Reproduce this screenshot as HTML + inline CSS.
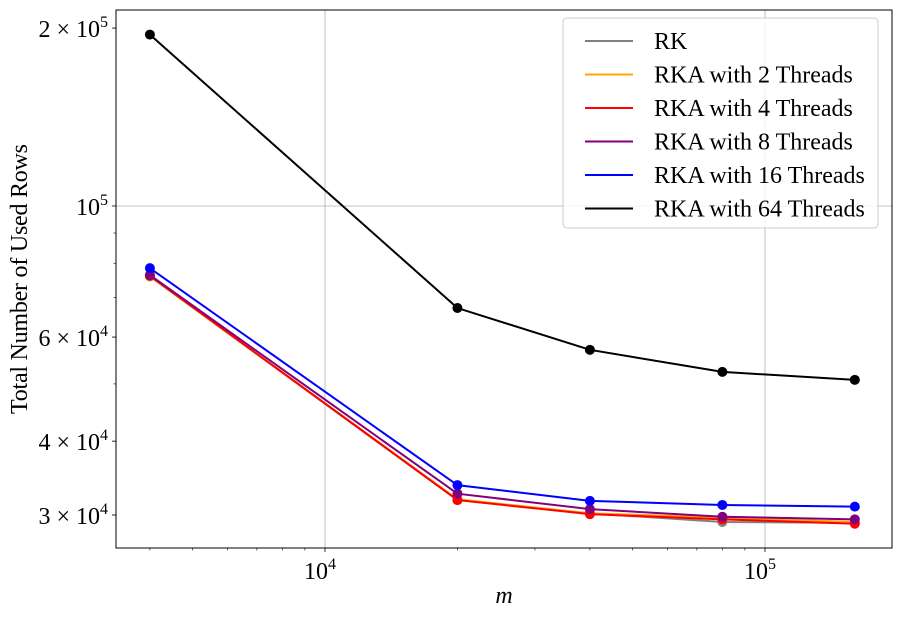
<!DOCTYPE html>
<html><head><meta charset="utf-8"><style>
body{margin:0;background:#fff}
svg{font-family:"Liberation Serif",serif}
</style></head><body>
<svg id="chart" width="899" height="616" xmlns="http://www.w3.org/2000/svg"></svg>
<script>
const xValues=[4000,20000,40000,80000,160000];
const seriesNames=["RK","RKA with 2 Threads","RKA with 4 Threads","RKA with 8 Threads","RKA with 16 Threads","RKA with 64 Threads"];
const seriesColors=["#808080","orange","red","purple","blue","black"];
const sRK=[76000,31800,30200,29200,29100];
const sRKA2=[76000,31900,30200,29700,29200];
const sRKA4=[76200,31800,30100,29500,29000];
const sRKA8=[76400,32600,30700,29800,29500];
const sRKA16=[78500,33700,31700,31200,31000];
const sRKA64=[195000,67200,57100,52400,50800];
const series=[sRK,sRKA2,sRKA4,sRKA8,sRKA16,sRKA64];
const yTicks=[30000,40000,60000,100000,200000];
const yTickLabels=[["3","4"],["4","4"],["6","4"],["","5"],["2","5"]];
const xTicks=[10000,100000];

const NS="http://www.w3.org/2000/svg";
const svg=document.getElementById('chart');
const L=116,R=892,T=10,B=548;
const X=v=>325+440*Math.log10(v/1e4);
const Y=v=>206-591*Math.log10(v/1e5);
function mk(t,a,p){const e=document.createElementNS(NS,t);for(const k in a)e.setAttribute(k,a[k]);(p||svg).appendChild(e);return e;}

xTicks.forEach(v=>{const g=mk('line',{x1:X(v),x2:X(v),y1:T,y2:B,stroke:'#b0b0b0','stroke-width':0.8});

});
[100000].forEach(v=>{const g=mk('line',{x1:L,x2:R,y1:Y(v),y2:Y(v),stroke:'#b0b0b0','stroke-width':0.8});

});

for(let d=1000;d<=100000;d*=10)for(let m=2;m<=9;m++){const v=d*m;const x=X(v);if(x<L||x>R)continue;
const t=mk('line',{x1:x,x2:x,y1:B,y2:B+2.5,stroke:'#000','stroke-width':0.6});

}
for(let d=10000;d<=100000;d*=10)for(let m=2;m<=9;m++){const v=d*m;const y=Y(v);if(y<T||y>B)continue;
const t=mk('line',{x1:L-2.5,x2:L,y1:y,y2:y,stroke:'#000','stroke-width':0.6});

}

xTicks.forEach(v=>{const x=X(v);
const t=mk('line',{x1:x,x2:x,y1:B,y2:B+4,stroke:'#000','stroke-width':0.8});


const tx=mk('text',{x:x-5,y:B+31,'font-size':24,'text-anchor':'middle'});


tx.innerHTML='10<tspan dy="-10" font-size="16">'+Math.round(Math.log10(v))+'</tspan>';});

yTicks.forEach((v,i)=>{const y=Y(v);
const t=mk('line',{x1:L-4,x2:L,y1:y,y2:y,stroke:'#000','stroke-width':0.8});


const tx=mk('text',{x:L-8,y:y+9,'font-size':24,'text-anchor':'end'});


const [m,e]=yTickLabels[i];
tx.innerHTML=(m?m+' × ':'')+'10<tspan dy="-10" font-size="16">'+e+'</tspan><tspan dy="10" font-size="1"> </tspan>';});

series.forEach((s,i)=>{const g=mk('g',{});


const pts=s.map((v,j)=>X(xValues[j])+','+Y(v)).join(' ');
const pl=mk('polyline',{points:pts,fill:'none',stroke:seriesColors[i],'stroke-width':2},g);


s.forEach((v,j)=>{const c=mk('circle',{cx:X(xValues[j]),cy:Y(v),r:5,fill:seriesColors[i]},g);

});});

const fr=mk('rect',{x:L,y:T,width:R-L,height:B-T,fill:'none',stroke:'#000','stroke-width':1});



const xt=mk('text',{x:(L+R)/2,y:603,'font-size':24,'font-style':'italic','text-anchor':'middle'});


xt.textContent='m';
const yt=mk('text',{x:0,y:0,'font-size':24,'text-anchor':'middle',textLength:270,transform:'translate(27,279) rotate(-90)'});


yt.textContent='Total Number of Used Rows';

const lg=mk('g',{});


const lb=mk('rect',{x:563,y:18,width:315,height:210,rx:4,fill:'#fff','fill-opacity':0.8,stroke:'#ccc','stroke-width':1},lg);


seriesNames.forEach((n,i)=>{const y=41+i*33.5;
const e=mk('g',{},lg);


mk('line',{x1:585,x2:633,y1:y,y2:y,stroke:seriesColors[i],'stroke-width':2},e);
const t=mk('text',{x:654,y:y+8,'font-size':24},e);
t.textContent=n;});
</script>
</body></html>
